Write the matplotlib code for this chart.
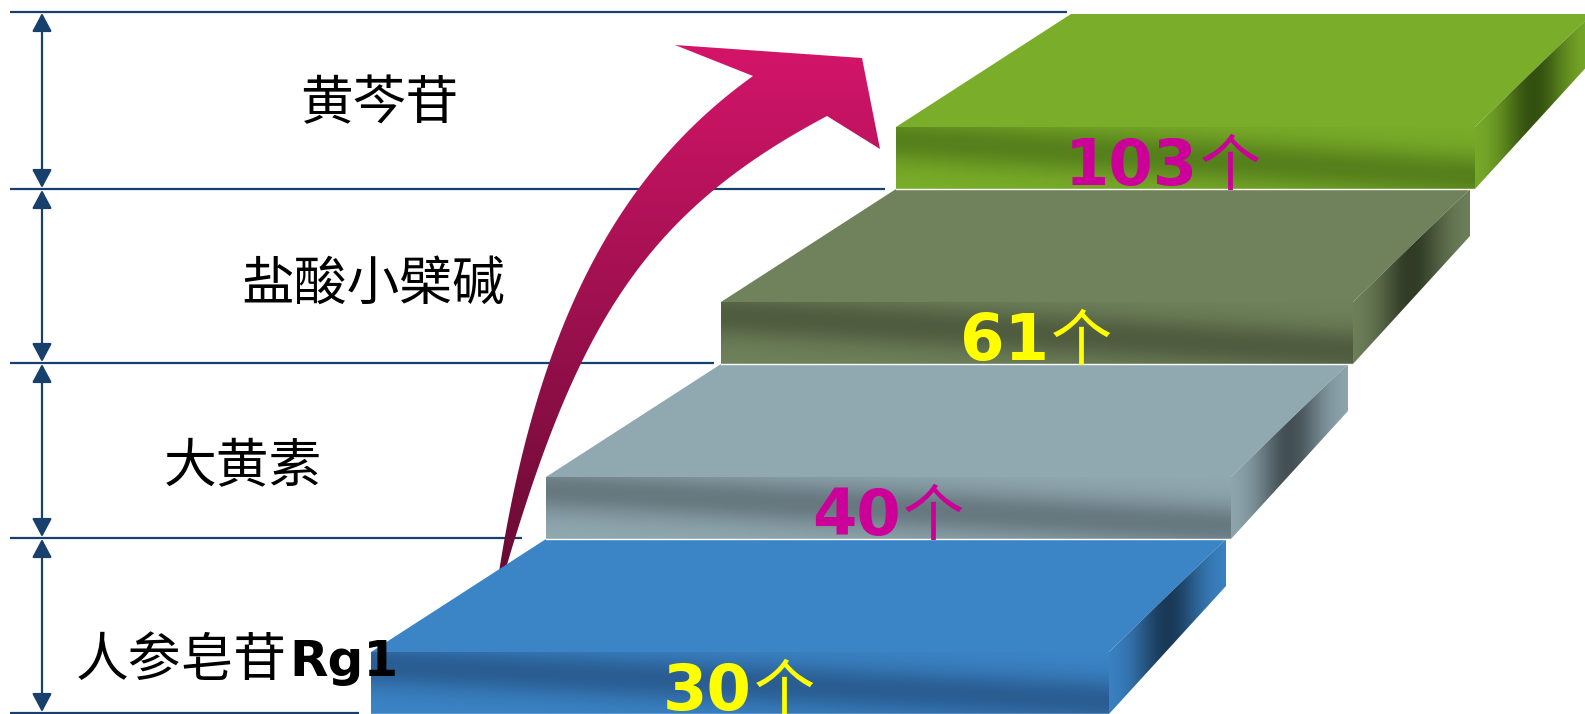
import numpy as np
import matplotlib
matplotlib.use("Agg")
import matplotlib.pyplot as plt
from matplotlib.patches import Polygon
from matplotlib.colors import to_rgb

# compounds from the bottom step to the top one
compounds = ["人参皂苷", "大黄素", "盐酸小檗碱", "黄芩苷"]
compound_suffix = ["Rg1", "", "", ""]
counts = [30, 40, 61, 103]
count_unit = "个"
count_colors = ["#ffff00", "#cc0099", "#ffff00", "#cc0099"]

top_colors = ["#3b84c6", "#90a8b0", "#6f825b", "#7aad29"]
front_dark = ["#2a5d92", "#67787f", "#4f5c3f", "#55801c"]
side_dark = ["#1a3958", "#434f54", "#313b26", "#33500f"]

W, H = 1585, 714
fig = plt.figure(figsize=(W / 100, H / 100), dpi=100)
ax = fig.add_axes([0, 0, 1, 1])
ax.axis("off")

LINE = "#17406d"


def fill_grad(verts, tfunc, c_light, c_dark, z):
  verts = np.asarray(verts, float)
  x0, y0 = verts.min(0)
  x1, y1 = verts.max(0)
  nx = max(int(x1 - x0) + 1, 2)
  ny = max(int(y1 - y0) + 1, 2)
  X, Y = np.meshgrid(np.linspace(x0, x1, nx), np.linspace(y0, y1, ny))
  t = np.clip(tfunc(X, Y), 0, 1)[..., None]
  rgb = (1 - t) * np.array(to_rgb(c_light)) + t * np.array(to_rgb(c_dark))
  im = ax.imshow(rgb, extent=(x0, x1, y1, y0), origin="upper", zorder=z,
                 interpolation="bilinear", aspect="auto")
  clip = Polygon(verts, closed=True, facecolor="none", edgecolor="none", transform=ax.transData)
  im.set_clip_path(clip)


def bez(p0, p1, p2, p3, n=100):
  t = np.linspace(0, 1, n)[:, None]
  p0, p1, p2, p3 = map(np.asarray, (p0, p1, p2, p3))
  return (1 - t) ** 3 * p0 + 3 * (1 - t) ** 2 * t * p1 + 3 * (1 - t) * t ** 2 * p2 + t ** 3 * p3


# band boundaries + guide lines on the left
bounds = [713, 538, 363, 189, 12]
line_ends = [359, 522, 714, 885, 1067]
for y, xe in zip(bounds, line_ends):
  ax.plot([10, xe], [y, y], color=LINE, lw=1.6, zorder=1, solid_capstyle="butt")
for yb, yt in zip(bounds[:-1], bounds[1:]):
  ax.annotate("", xy=(42, yt + 1), xytext=(42, yb - 1),
              arrowprops=dict(arrowstyle="<|-|>,head_length=0.45,head_width=0.24",
                              color=LINE, lw=1.6, shrinkA=0, shrinkB=0, mutation_scale=25),
              zorder=1)

# the rising curved arrow
left_edge = bez((497, 585), (535, 330), (615, 175), (753, 76))
right_edge = bez((501, 585), (575, 330), (640, 215), (827, 116))[::-1]
head = [(675, 45), (862, 58), (880, 149)]
arrow_verts = np.vstack([left_edge, head, right_edge])
fill_grad(arrow_verts, lambda X, Y: (Y - 45) / (585 - 45), "#d4156a", "#650b32", 2)

# the four steps
for i in range(4):
  fl = 371 + 175 * i
  fr = 1109 + 122 * i
  fb = 714 - 175 * i
  ft = fb - 62
  by = ft - 113
  bl, br = fl + 175, fr + 117
  sb = by + 47

  top = [(fl, ft), (fr, ft), (br, by), (bl, by)]
  ax.add_patch(Polygon(top, closed=True, facecolor=top_colors[i], edgecolor="none", zorder=3))

  front = [(fl, ft), (fr, ft), (fr, fb), (fl, fb)]

  def front_t(X, Y, fl=fl, fr=fr, ft=ft):
    u = (Y - ft) / 62.0
    v = (X - fl) / float(fr - fl)
    uc = 0.2 + 0.6 * v
    return np.exp(-((u - uc) / 0.38) ** 2)
  fill_grad(front, front_t, top_colors[i], front_dark[i], 3)

  side = [(fr, ft), (br, by), (br, sb), (fr, fb)]

  def side_t(X, Y, fr=fr, br=br):
    v = (X - fr) / float(br - fr)
    return np.exp(-((v - 0.5) / 0.28) ** 2)
  fill_grad(side, side_t, top_colors[i], side_dark[i], 3)

  ax.plot([fl, fr], [fb, fb], color="white", lw=1.0, zorder=4)

  # count label on the front face
  cx = (fl + fr) / 2 + 12
  ax.text(cx, fb - 4, str(counts[i]), ha="right", va="baseline", fontsize=46,
          fontweight="bold", family="DejaVu Sans", color=count_colors[i], zorder=10)
  ax.text(cx + 2, fb - 4, count_unit, ha="left", va="baseline", fontsize=44,
          family=["Noto Sans CJK SC"], color=count_colors[i], zorder=10)

# compound names
name_pos = [(287, 676), (243, 482), (373, 300), (379, 119)]
for i, (x, yb) in enumerate(name_pos):
  if compound_suffix[i]:
    ax.text(x, yb, compounds[i], ha="right", va="baseline", fontsize=38,
            family=["Noto Sans CJK SC"], color="black", zorder=10)
    ax.text(x + 2, yb, compound_suffix[i], ha="left", va="baseline", fontsize=36,
            fontweight="bold", family="DejaVu Sans", color="black", zorder=10)
  else:
    ax.text(x, yb, compounds[i], ha="center", va="baseline", fontsize=38,
            family=["Noto Sans CJK SC"], color="black", zorder=10)

ax.set_xlim(0, W)
ax.set_ylim(H, 0)
fig.savefig("out.png", dpi=100)
